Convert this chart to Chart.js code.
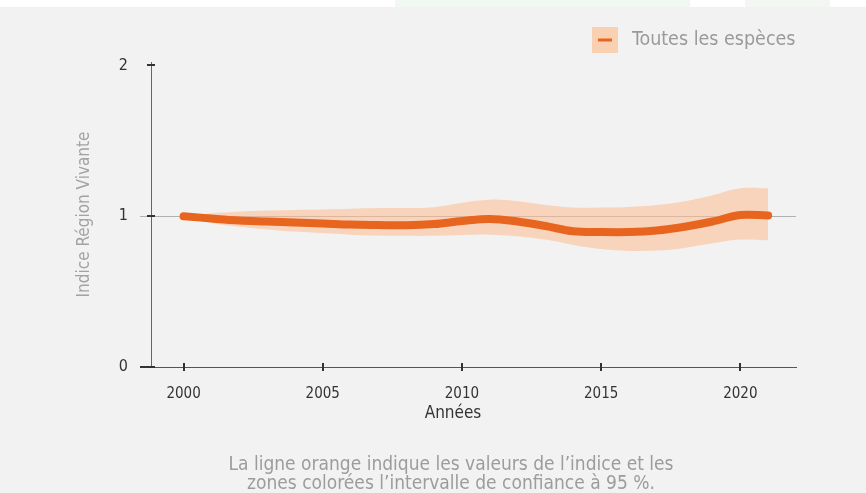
<!DOCTYPE html>
<html lang="fr">
<head>
<meta charset="utf-8">
<title>Indice Région Vivante</title>
<script src="https://cdn.jsdelivr.net/npm/chart.js@4.4.1/dist/chart.umd.min.js"></script>
<style>
  html, body { margin: 0; padding: 0; background: #f2f2f2; }
  #cadre { position: relative; width: 866px; height: 493px; overflow: hidden; background: #f2f2f2; }
  #bandeau {
    position: absolute; left: 0; top: 0; width: 866px; height: 7px;
    background: linear-gradient(to right, #fff 0 395px, #f1f7f3 395px 690px, #fff 690px 745px, #f3f6f3 745px 830px, #fff 830px);
  }
  #graphe { position: absolute; left: 0; top: 0; }
  #note {
    position: absolute; left: 0; top: 454px; width: 866px; padding-left: 36px; box-sizing: border-box;
    text-align: center; color: #9c9c9c; font: 19px/19px "DejaVu Sans Condensed", "Liberation Sans Narrow", sans-serif;
  }
</style>
</head>
<body>
<div id="cadre">
  <div id="bandeau"></div>
  <canvas id="graphe" width="866" height="493"></canvas>
  <div id="note">La ligne orange indique les valeurs de l’indice et les<br>zones colorées l’intervalle de confiance à 95 %.</div>
</div>
<script>
// Données
const annees = [2000, 2001, 2002, 2003, 2004, 2005, 2006, 2007, 2008, 2009, 2010,
  2011, 2012, 2013, 2014, 2015, 2016, 2017, 2018, 2019, 2020, 2021];
const indice = [1.0, 0.985, 0.972, 0.965, 0.958, 0.952, 0.945, 0.942, 0.94, 0.948, 0.968,
  0.982, 0.965, 0.935, 0.9, 0.895, 0.895, 0.905, 0.93, 0.965, 1.008, 1.005];
const borneHaute = [1.0, 1.02, 1.03, 1.038, 1.042, 1.045, 1.05, 1.055, 1.055, 1.06, 1.09,
  1.11, 1.1, 1.075, 1.058, 1.058, 1.062, 1.075, 1.1, 1.14, 1.185, 1.185];
const borneBasse = [1.0, 0.955, 0.93, 0.912, 0.898, 0.888, 0.878, 0.872, 0.87, 0.87, 0.875,
  0.878, 0.868, 0.845, 0.81, 0.782, 0.77, 0.772, 0.79, 0.82, 0.845, 0.84];
const graduationsX = [2000, 2005, 2010, 2015, 2020];
const graduationsY = [0, 1, 2];

const police = '"DejaVu Sans Condensed", "Liberation Sans Narrow", sans-serif';
const orange = '#e8651f';
const orangeClair = 'rgba(252, 188, 142, 0.55)';

const points = (valeurs) => annees.map((a, i) => ({ x: a, y: valeurs[i] }));

// Petits traits des graduations, légende et titre de l'axe x
const habillage = {
  id: 'habillage',
  afterDraw(chart) {
    const { ctx, scales: { x, y } } = chart;
    ctx.save();
    ctx.strokeStyle = '#333';
    ctx.lineWidth = 2;
    graduationsX.forEach(v => {
      const px = Math.round(x.getPixelForValue(v));
      ctx.beginPath();
      ctx.moveTo(px, y.bottom - 4);
      ctx.lineTo(px, y.bottom + 4);
      ctx.stroke();
    });
    graduationsY.forEach(v => {
      const py = Math.round(y.getPixelForValue(v));
      ctx.beginPath();
      ctx.moveTo(x.left - (v === 0 ? 11 : 4), py);
      ctx.lineTo(x.left + 4, py);
      ctx.stroke();
    });

    // titre de l'axe x
    ctx.fillStyle = '#333';
    ctx.font = '17px ' + police;
    ctx.textAlign = 'center';
    ctx.textBaseline = 'middle';
    ctx.fillText('Années', 453, 414);

    // légende
    ctx.fillStyle = 'rgb(249, 208, 177)';
    ctx.fillRect(592, 27, 26, 26);
    ctx.strokeStyle = orange;
    ctx.lineWidth = 3;
    ctx.beginPath();
    ctx.moveTo(598, 40);
    ctx.lineTo(612, 40);
    ctx.stroke();
    ctx.fillStyle = '#9a9a9a';
    ctx.font = '19.5px ' + police;
    ctx.textAlign = 'left';
    ctx.fillText('Toutes les espèces', 632, 40);
    ctx.restore();
  }
};

new Chart(document.getElementById('graphe'), {
  type: 'line',
  data: {
    datasets: [
      {
        label: 'Toutes les espèces',
        data: points(indice),
        borderColor: orange,
        borderWidth: 8,
        borderCapStyle: 'round',
        borderJoinStyle: 'round',
        pointRadius: 0,
        tension: 0.35,
        fill: false,
      },
      {
        label: 'borne haute',
        data: points(borneHaute),
        borderWidth: 0,
        pointRadius: 0,
        tension: 0.35,
        backgroundColor: orangeClair,
        fill: '+1',
      },
      {
        label: 'borne basse',
        data: points(borneBasse),
        borderWidth: 0,
        pointRadius: 0,
        tension: 0.35,
        fill: false,
      },
    ],
  },
  options: {
    responsive: false,
    animation: false,
    layout: { padding: { top: 62, right: 70, left: 0, bottom: 0 } },
    plugins: { legend: { display: false }, tooltip: { enabled: false } },
    scales: {
      x: {
        type: 'linear',
        min: 1998.83,
        max: 2022,
        afterBuildTicks: (scale) => { scale.ticks = graduationsX.map(v => ({ value: v })); },
        afterFit: (scale) => { scale.height = 126; },
        grid: { display: false },
        border: { display: true, color: '#555', width: 1 },
        ticks: {
          padding: 10,
          color: '#333',
          font: { family: police, size: 15 },
          callback: (v) => String(v),
        },
      },
      y: {
        min: 0,
        max: 2.023,
        afterBuildTicks: (scale) => { scale.ticks = graduationsY.map(v => ({ value: v })); },
        afterFit: (scale) => { scale.width = 151; },
        grid: {
          tickLength: 11,
          lineWidth: 1,
          color: (c) => c.tick && c.tick.value === 1 ? '#b2b2b2' : (c.tick && c.tick.value === 0 ? '#555' : 'rgba(0,0,0,0)'),
        },
        border: { display: true, color: '#666', width: 1 },
        ticks: {
          padding: 12,
          color: '#333',
          font: { family: police, size: 16 },
          callback: (v) => String(v),
        },
        title: {
          display: true,
          text: 'Indice Région Vivante',
          color: '#a3a3a3',
          font: { family: police, size: 17 },
          padding: { top: 74, bottom: 0 },
        },
      },
    },
  },
  plugins: [habillage],
});
</script>
</body>
</html>
